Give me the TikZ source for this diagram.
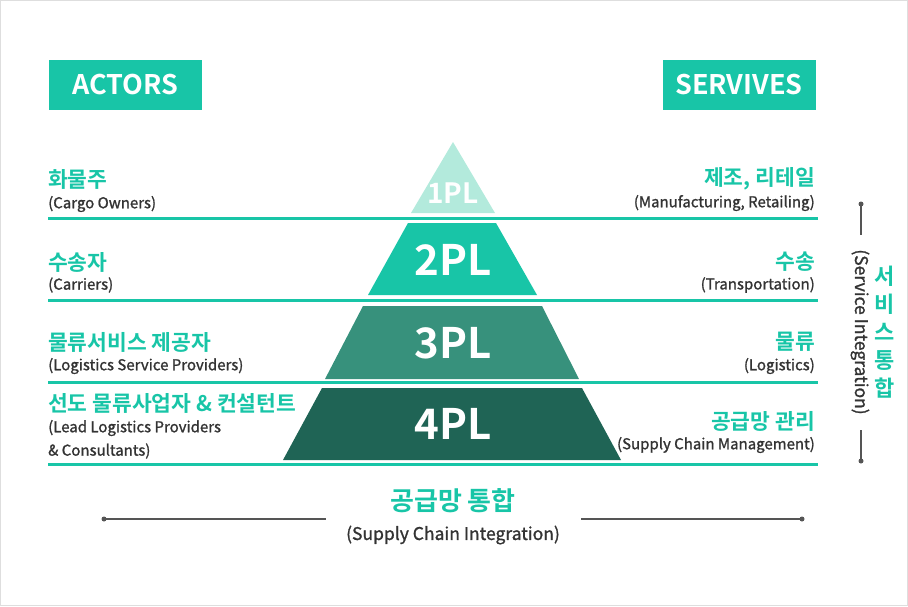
\documentclass[tikz,border=0pt]{standalone}
\usepackage{fontspec}
\setmainfont{Noto Sans CJK KR}[BoldFont={Noto Sans CJK KR Bold}]
\newfontfamily\medf{Noto Sans CJK KR}[FakeBold=1.2]
\definecolor{teal1}{HTML}{18C5A7}
\definecolor{mint}{HTML}{B3EADC}
\definecolor{mid}{HTML}{37917C}
\definecolor{dark}{HTML}{1F6455}
\definecolor{txt}{HTML}{333333}
\definecolor{rule}{HTML}{555555}
\begin{document}
\begin{tikzpicture}[x=1pt,y=-1pt,
  hdr/.style={fill=teal1,text=white,font=\bfseries\fontsize{27}{29}\selectfont,minimum width=153pt,minimum height=50pt,inner sep=0pt},
  kt/.style={text=teal1,font=\bfseries\fontsize{21.5}{23}\selectfont,inner sep=0pt},
  et/.style={text=txt,font=\medf\fontsize{15}{17}\selectfont,inner sep=0pt},
  lvl/.style={text=white,font=\bfseries\fontsize{42}{44}\selectfont,inner sep=0pt},
  sep/.style={draw=teal1,line width=3pt},
  grey/.style={draw=rule,line width=1.5pt},
  dot/.style={circle,fill=rule,inner sep=0pt,minimum size=5pt}]
\path[use as bounding box] (0,0) rectangle (908,606);
\draw[draw=black!13,line width=1pt] (0.5,0.5) rectangle (907.5,605.5);
% headers
\node[hdr] (actors) at (125.5,85) {ACTORS};
\node[hdr] (serv) at (739,85) {SERVIVES};
% pyramid
\fill[mint] (453,142) -- (495,213) -- (411,213) -- cycle;
\fill[teal1] (408,223) -- (496,223) -- (537,295) -- (368,295) -- cycle;
\fill[mid] (363,306) -- (542,306) -- (579,379) -- (325,379) -- cycle;
\fill[dark] (322,388) -- (582,388) -- (621,460) -- (283,460) -- cycle;
\node[lvl,font=\bfseries\fontsize{28}{30}\selectfont] (p1) at (453,193) {1PL};
\node[lvl] (p2) at (453,260) {2PL};
\node[lvl] (p3) at (453,343) {3PL};
\node[lvl] (p4) at (453,424) {4PL};
% separators
\draw[sep] (48,218) -- (818,218);
\draw[sep] (48,300) -- (818,300);
\draw[sep] (48,382) -- (818,382);
\draw[sep] (48,464) -- (818,464);
% left texts
\node[kt,anchor=west] (a1) at (48,179) {화물주};
\node[et,anchor=west] (a1e) at (48,204) {(Cargo Owners)};
\node[kt,anchor=west] (a2) at (48,262) {수송자};
\node[et,anchor=west] (a2e) at (48,285) {(Carriers)};
\node[kt,anchor=west] (a3) at (48,342) {물류서비스 제공자};
\node[et,anchor=west] (a3e) at (48,366) {(Logistics Service Providers)};
\node[kt,anchor=west] (a4) at (48,403) {선도 물류사업자 \& 컨설턴트};
\node[et,anchor=west] (a4e) at (48,428) {(Lead Logistics Providers};
\node[et,anchor=west] (a4f) at (48,451) {\& Consultants)};
% right texts
\node[kt,anchor=east] (s1) at (815,179) {제조, 리테일};
\node[et,anchor=east] (s1e) at (815,203) {(Manufacturing, Retailing)};
\node[kt,anchor=east] (s2) at (815,262) {수송};
\node[et,anchor=east] (s2e) at (815,285) {(Transportation)};
\node[kt,anchor=east] (s3) at (815,342) {물류};
\node[et,anchor=east] (s3e) at (815,366) {(Logistics)};
\node[kt,anchor=east] (s4) at (815,421) {공급망 관리};
\node[et,anchor=east] (s4e) at (815,445) {(Supply Chain Management)};
% bottom
\node[kt,font=\bfseries\fontsize{26}{28}\selectfont] (b1) at (453,501) {공급망 통합};
\node[et,font=\medf\fontsize{17.5}{19}\selectfont] (b2) at (453,535) {(Supply Chain Integration)};
\node[dot] (bl) at (104,519) {};
\node[dot] (br) at (802,519) {};
\coordinate (bl2) at (326,519);
\coordinate (br2) at (581,519);
\draw[grey] (bl.center) -- (bl2);
\draw[grey] (br2) -- (br.center);
% right vertical
\node[dot] (vt) at (861,204) {};
\node[dot] (vb) at (861,461) {};
\coordinate (vt2) at (861,235);
\coordinate (vb2) at (861,430);
\draw[grey] (vt.center) -- (vt2);
\draw[grey] (vb2) -- (vb.center);
\node[et,font=\medf\fontsize{17.5}{19}\selectfont,rotate=-90] (vs) at (860,332) {(Service Integration)};
\node[kt,font=\bfseries\fontsize{22}{28}\selectfont,align=center] (vk) at (885,332) {서\\비\\스\\통\\합};
\end{tikzpicture}
\end{document}
